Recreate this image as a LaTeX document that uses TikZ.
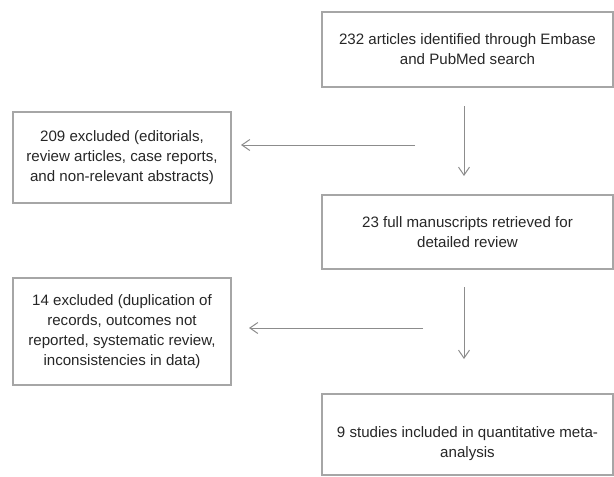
\documentclass[tikz,border=0pt]{standalone}
\usepackage{fontspec}
\setmainfont{Liberation Sans}
\usetikzlibrary{arrows.meta}
\definecolor{boxgray}{HTML}{A6A6A6}
\definecolor{arrgray}{HTML}{8C8C8C}
\definecolor{txtgray}{HTML}{262626}

\begin{document}
\begin{tikzpicture}[x=1pt,y=-1pt,
  box/.style={draw=boxgray,line width=2pt,align=center,text=txtgray,inner sep=0pt,
    font=\fontsize{15.1}{20}\selectfont},
  arr/.style={draw=arrgray,line width=1pt,-{Straight Barb[length=8pt,width=11pt]}}]
\useasboundingbox (0,0) rectangle (614,477);
\node[box,minimum width=291pt,minimum height=75pt] (search) at (467.5,49.5)
  {232 articles identified through Embase\\and PubMed search};
\node[box,minimum width=218pt,minimum height=91pt] (excl1) at (122,157.5)
  {209 excluded (editorials,\\review articles, case reports,\\and non-relevant abstracts)};
\node[box,minimum width=291pt,minimum height=74pt] (full) at (467.5,232)
  {23 full manuscripts retrieved for\\detailed review};
\node[box,minimum width=218pt,minimum height=107pt] (excl2) at (122,331.5)
  {14 excluded (duplication of\\records, outcomes not\\reported, systematic review,\\inconsistencies in data)};
\node[box,minimum width=291pt,minimum height=81pt] (incl) at (467.5,434.5)
  {\rule{0pt}{30pt}9 studies included in quantitative meta-\\analysis};
\coordinate (fork1) at (415,145);
\coordinate (fork2) at (423,328);

\draw[arr,shorten <=18pt,shorten >=18pt] ([xshift=-3.5pt]search.south) -- ([xshift=-3.5pt]full.north);
\draw[arr,shorten <=17pt,shorten >=34pt] ([xshift=-3.5pt]full.south) -- ([xshift=-3.5pt]incl.north);
\draw[arr,shorten >=9pt] (fork1) -- (fork1 -| excl1.east);
\draw[arr,shorten >=17pt] (fork2) -- (fork2 -| excl2.east);
\end{tikzpicture}
\end{document}
